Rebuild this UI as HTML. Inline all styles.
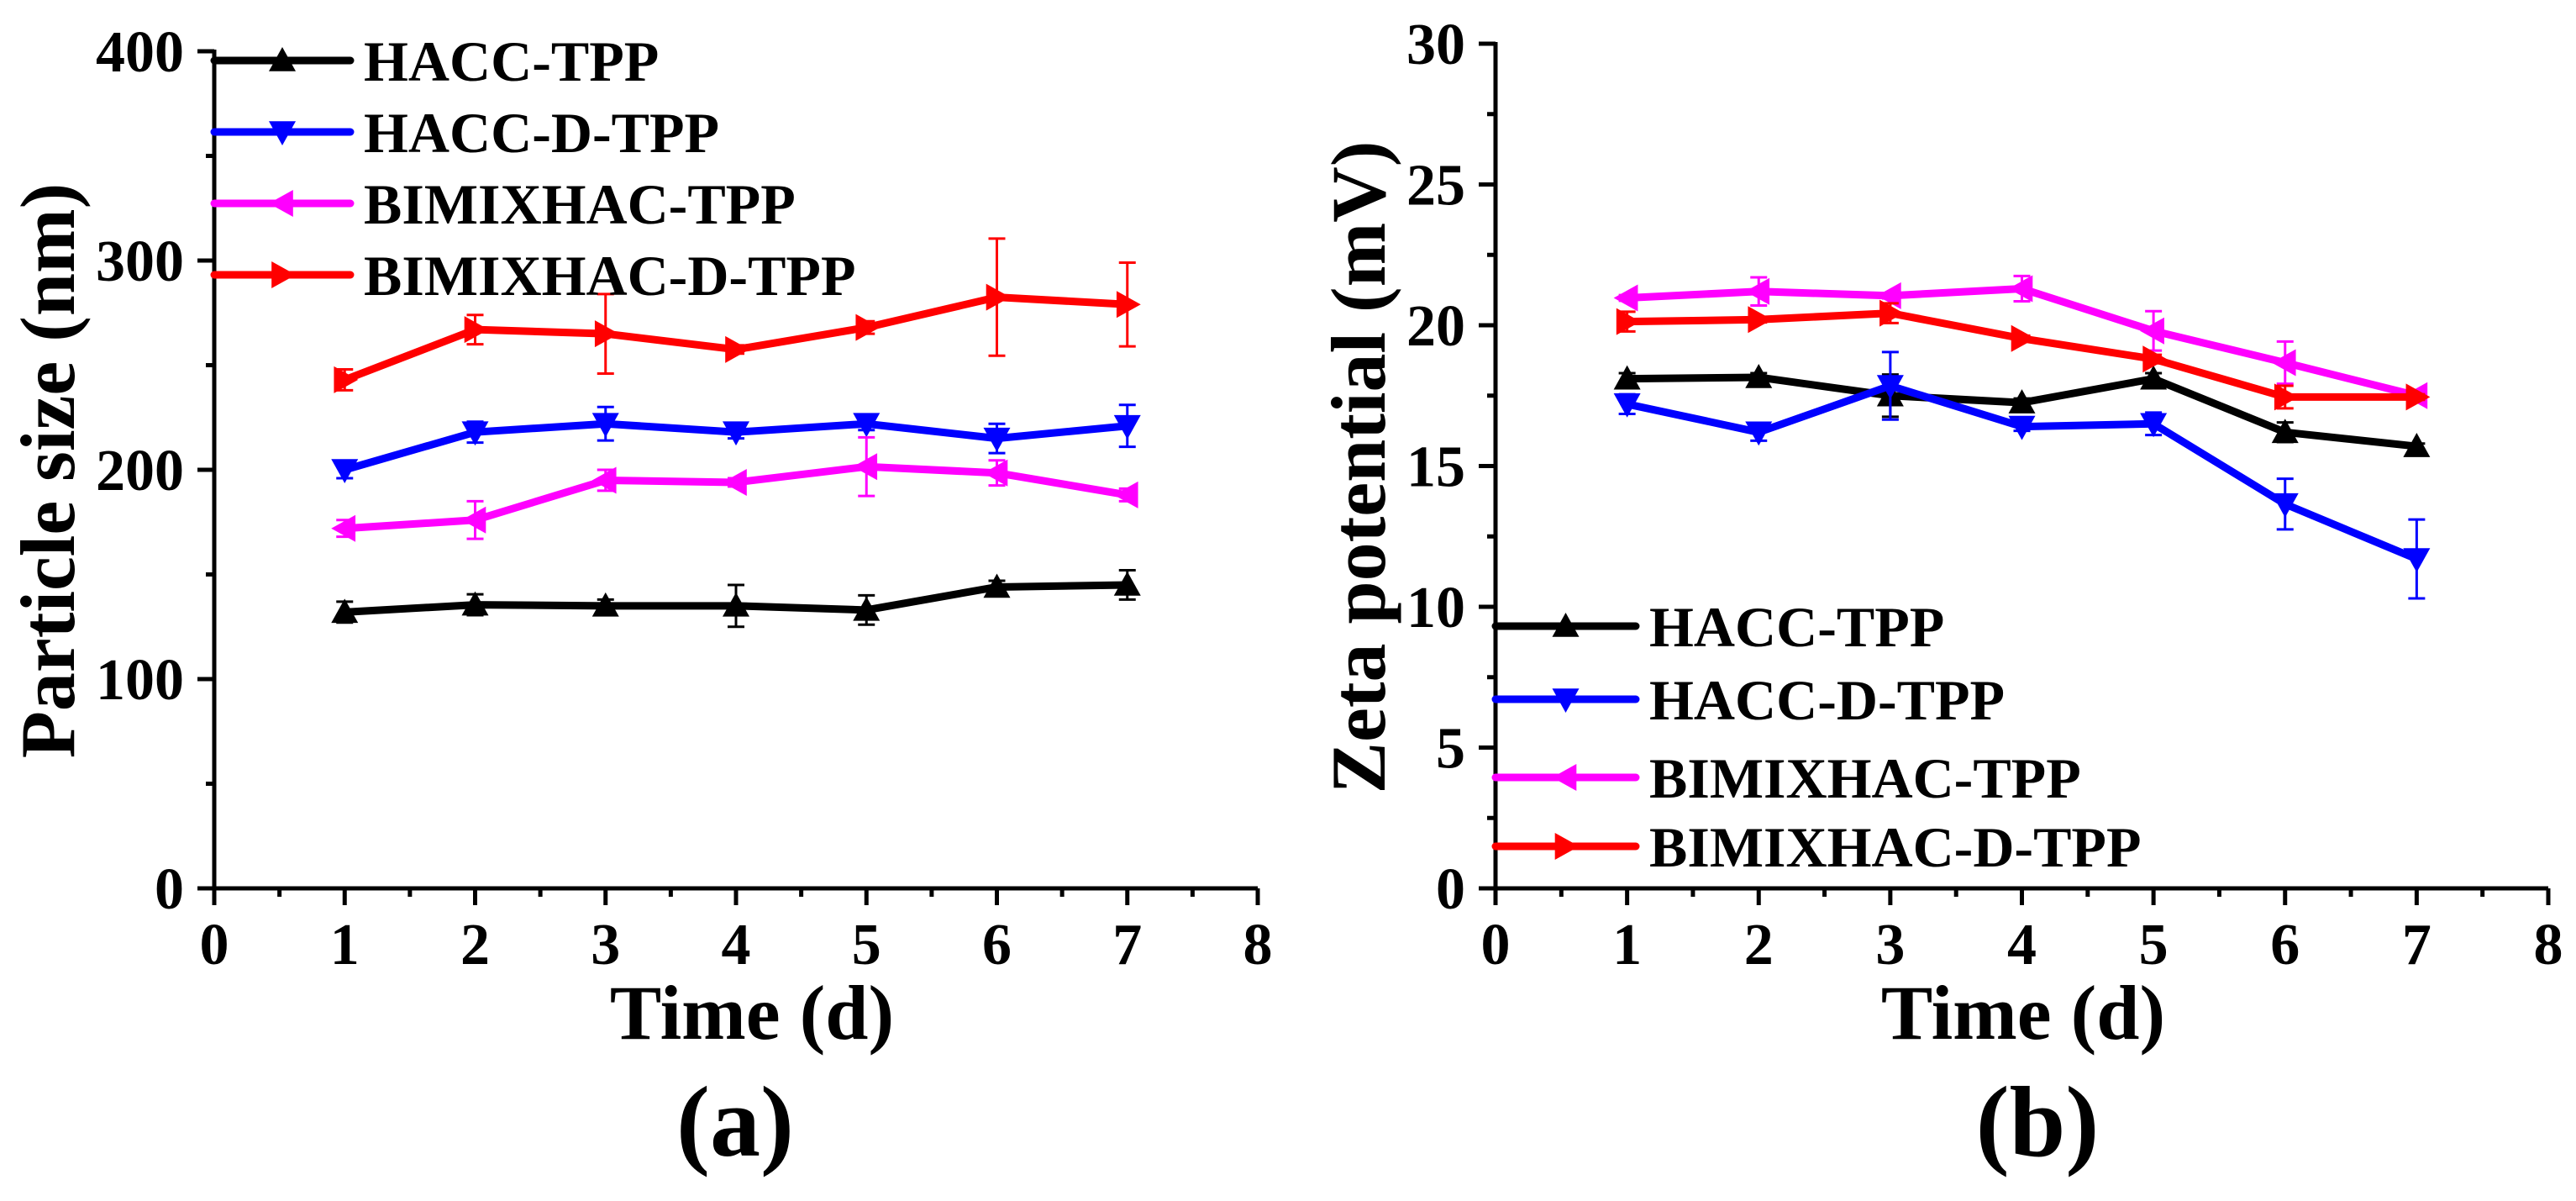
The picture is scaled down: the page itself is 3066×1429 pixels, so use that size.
<!DOCTYPE html>
<html><head><meta charset="utf-8"><style>
html,body{margin:0;padding:0;background:#fff;}
svg, svg text{font-family:"Liberation Serif","Times New Roman",Times,serif;font-weight:bold;}
</style></head><body>
<svg id="fig" width="3066" height="1424" viewBox="0 0 3066 1424" xmlns="http://www.w3.org/2000/svg"></svg>
<script>
const days = [1,2,3,4,5,6,7];
const seriesNames = ["HACC-TPP","HACC-D-TPP","BIMIXHAC-TPP","BIMIXHAC-D-TPP"];
const seriesColors = ["#000000","#0000ff","#ff00ff","#ff0000"];
const seriesMarkers = ["up","down","left","right"];
const xTicks = [0,1,2,3,4,5,6,7,8];
// panel a: particle size
const sizeHacc = [132,135.5,135,135,133,144,145];
const sizeHaccErr = [5,5,3,10,7,3,7];
const sizeHaccD = [200,218,222,218,222,215,221];
const sizeHaccDErr = [4,5,8,3,3,7,10];
const sizeBimix = [172,176,195,194,201.5,198.5,188];
const sizeBimixErr = [4,9,5,2,14,6,3];
const sizeBimixD = [243,267,265,257.5,268,282.5,279];
const sizeBimixDErr = [5,7,19,2,3,28,20];
const sizeTicks = [0,100,200,300,400];
// panel b: zeta potential
const zetaHacc = [18.1,18.15,17.5,17.25,18.1,16.2,15.7];
const zetaHaccErr = [0.2,0.15,0.75,0.15,0.2,0.35,0.1];
const zetaHaccD = [17.2,16.2,17.85,16.4,16.5,13.65,11.7];
const zetaHaccDErr = [0.35,0.3,1.2,0.15,0.4,0.9,1.4];
const zetaBimix = [20.97,21.2,21.05,21.3,19.8,18.67,17.5];
const zetaBimixErr = [0.1,0.5,0.1,0.45,0.7,0.75,0.1];
const zetaBimixD = [20.13,20.2,20.43,19.53,18.8,17.45,17.45];
const zetaBimixDErr = [0.35,0.1,0.35,0.1,0.15,0.4,0.1];
const zetaTicks = [0,5,10,15,20,25,30];

const NS="http://www.w3.org/2000/svg";
const FONT="Liberation Serif, Times New Roman, serif";
const svg=document.getElementById('fig');
function mk(tag,attrs,parent,text){const e=document.createElementNS(NS,tag);for(const k in attrs)e.setAttribute(k,attrs[k]);if(tag==='text'){e.setAttribute('font-family',FONT);e.setAttribute('font-weight','bold');}if(text!==undefined)e.textContent=text;(parent||svg).appendChild(e);return e;}
function marker(g,type,cx,cy,color){
  const s=16;let pts;
  if(type==="up")pts=[[cx,cy-s],[cx+s,cy+s*0.8],[cx-s,cy+s*0.8]];
  else if(type==="down")pts=[[cx,cy+s],[cx+s,cy-s*0.8],[cx-s,cy-s*0.8]];
  else if(type==="left")pts=[[cx-s,cy],[cx+s*0.8,cy-s],[cx+s*0.8,cy+s]];
  else pts=[[cx+s,cy],[cx-s*0.8,cy-s],[cx-s*0.8,cy+s]];
  const p=mk('polygon',{points:pts.map(q=>q.join(',')).join(' '),fill:color},g);
  
  
}
function panel(o){
  const g=mk('g',{});
  
  
  const X=v=>o.x0+(v-0)/8*(o.x1-o.x0);
  const Y=v=>o.y0-(v-o.ymin)/(o.ymax-o.ymin)*(o.y0-o.y1);
  o.series.forEach((vals,i)=>{
    const sg=mk('g',{},g);
    
    
    const errs=o.errs[i];
    days.forEach((d,j)=>{
      const x=X(d),yt=Y(vals[j]+errs[j]),yb=Y(vals[j]-errs[j]);
      const e=mk('path',{d:`M${x},${yt}V${yb}M${x-10},${yt}H${x+10}M${x-10},${yb}H${x+10}`,stroke:seriesColors[i],'stroke-width':3,fill:'none'},sg);
      
      
    });
    const l=mk('polyline',{points:days.map((d,j)=>X(d)+','+Y(vals[j])).join(' '),stroke:seriesColors[i],'stroke-width':9,fill:'none','stroke-linejoin':'round','stroke-linecap':'round'},sg);
    
    
    days.forEach((d,j)=>marker(sg,seriesMarkers[i],X(d),Y(vals[j]),seriesColors[i]));
  });
  const ax=mk('path',{d:`M${o.x0},${o.y1-2}V${o.y0}H${o.x1}`,stroke:'#000','stroke-width':5,fill:'none'},g);
  
  
  xTicks.forEach(t=>{
    mk('line',{x1:X(t),x2:X(t),y1:o.y0,y2:o.y0+20,stroke:'#000','stroke-width':5},g);
    if(t<8)mk('line',{x1:X(t+0.5),x2:X(t+0.5),y1:o.y0,y2:o.y0+10,stroke:'#000','stroke-width':5},g);
    const tl=mk('text',{x:X(t),y:o.y0+90,'font-size':70,'text-anchor':'middle'},g,String(t));
    
    
  });
  o.yticks.forEach((t,k)=>{
    mk('line',{x1:o.x0-20,x2:o.x0,y1:Y(t),y2:Y(t),stroke:'#000','stroke-width':5},g);
    if(k<o.yticks.length-1){const m=(t+o.yticks[k+1])/2;mk('line',{x1:o.x0-10,x2:o.x0,y1:Y(m),y2:Y(m),stroke:'#000','stroke-width':5},g);}
    const tl=mk('text',{x:o.x0-36,y:Y(t)+24,'font-size':70,'text-anchor':'end'},g,String(t));
    
    
  });
  const xt=mk('text',{x:o.xtx,y:1236,'font-size':92,'text-anchor':'middle'},g,'Time (d)');
  
  
  const yt=mk('text',{x:0,y:0,'font-size':92,'text-anchor':'middle',transform:`translate(${o.ytx},${o.yty}) rotate(-90)`},g,o.ytitle);
  
  
  const pl=mk('text',{x:o.plx,y:1375,'font-size':120,'text-anchor':'middle'},g,o.plabel);
  
  
  o.legY.forEach((ly,i)=>{
    const lg=mk('g',{},g);
    
    
    mk('line',{x1:o.x0,x2:o.legX2,y1:ly,y2:ly,stroke:seriesColors[i],'stroke-width':9,'stroke-linecap':'round'},lg);
    marker(lg,seriesMarkers[i],(o.x0+o.legX2)/2,ly,seriesColors[i]);
    mk('text',{x:o.legX2+16,y:ly+24,'font-size':68},lg,seriesNames[i]);
  });
}
panel({name:'panel-a-particle-size',x0:255,x1:1497,y0:1057,y1:61,ymin:0,ymax:400,yticks:sizeTicks,
  series:[sizeHacc,sizeHaccD,sizeBimix,sizeBimixD],errs:[sizeHaccErr,sizeHaccDErr,sizeBimixErr,sizeBimixDErr],
  xtx:895,ytx:88,yty:560,ytitle:'Particle size (nm)',plx:875,plabel:'(a)',legY:[72,157,242,327],legX2:417});
panel({name:'panel-b-zeta-potential',x0:1780,x1:3033,y0:1057,y1:52,ymin:0,ymax:30,yticks:zetaTicks,
  series:[zetaHacc,zetaHaccD,zetaBimix,zetaBimixD],errs:[zetaHaccErr,zetaHaccDErr,zetaBimixErr,zetaBimixDErr],
  xtx:2408,ytx:1648,yty:556,ytitle:'Zeta potential (mV)',plx:2425,plabel:'(b)',legY:[745,832,925,1007],legX2:1947});
</script>
</body></html>
